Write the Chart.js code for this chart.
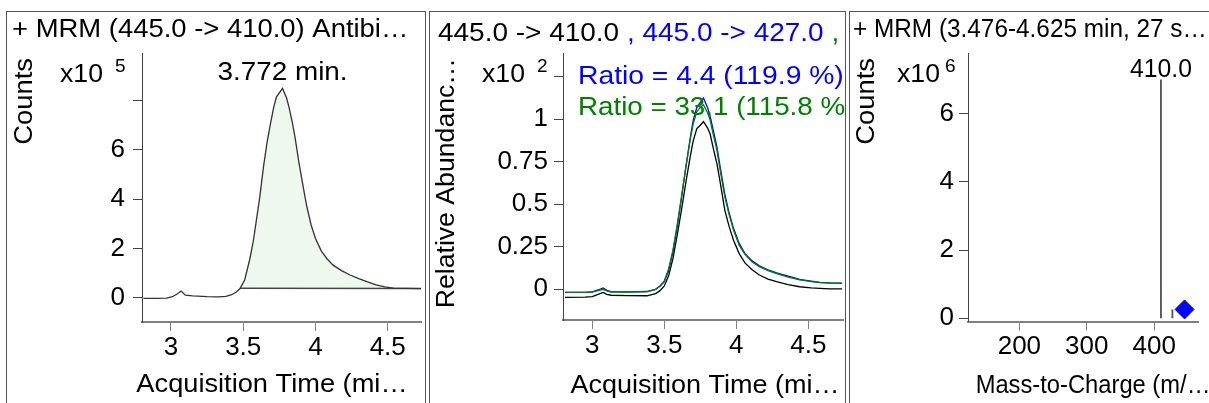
<!DOCTYPE html>
<html>
<head>
<meta charset="utf-8">
<script src="https://cdn.jsdelivr.net/npm/chart.js@4.4.1/dist/chart.umd.min.js"></script>
<style>
  html, body { margin: 0; padding: 0; background: #fff; width: 1209px; height: 403px; overflow: hidden; }
  .panel { position: absolute; top: 11px; height: 400px; border: 1px solid #555; box-sizing: border-box; }
  canvas { position: absolute; }
</style>
</head>
<body>
<div class="panel" style="left:6px;width:420px"></div>
<div class="panel" style="left:429px;width:417px"></div>
<div class="panel" style="left:849px;width:400px"></div>
<canvas id="c1" width="418" height="391" style="left:7px;top:12px"></canvas>
<canvas id="c2" width="415" height="391" style="left:430px;top:12px"></canvas>
<canvas id="c3" width="359" height="391" style="left:850px;top:12px"></canvas>
<script>
// panel 1 : MRM 445.0 -> 410.0, counts x10^5
const T1 = [2.81, 2.90, 2.97, 3.01, 3.04, 3.07, 3.10, 3.15, 3.25, 3.33, 3.38, 3.42, 3.45,
  3.477, 3.51, 3.545, 3.57, 3.595, 3.615, 3.64, 3.665, 3.69, 3.71, 3.73, 3.772, 3.80, 3.818,
  3.84, 3.86, 3.885, 3.915, 3.94, 3.97, 4.00, 4.04, 4.08, 4.12, 4.18, 4.24, 4.30, 4.36, 4.42,
  4.48, 4.54, 4.62, 4.73];
const V1 = [-0.03, -0.03, -0.02, 0.04, 0.14, 0.27, 0.10, 0.07, 0.04, 0.03, 0.05, 0.12, 0.22,
  0.36, 0.72, 1.55, 2.3, 3.3, 4.1, 5.3, 6.3, 7.1, 7.7, 8.15, 8.49, 8.1, 7.7,
  7.1, 6.45, 5.5, 4.5, 3.7, 2.95, 2.40, 1.90, 1.58, 1.33, 1.10, 0.92, 0.77, 0.64, 0.52,
  0.44, 0.39, 0.38, 0.37];
const PEAK_RT = 3.772;
const BASE_T = [3.477, 4.73];
const BASE_V = [0.38, 0.37];
const X1_TICKS = [3, 3.5, 4, 4.5];
const Y1_TICKS = [0, 2, 4, 6, 8];
const Y1_LABELS = ['0', '2', '4', '6', ''];

// panel 2 : qualifier overlay, relative abundance x10^2
const T2 = [2.81, 2.95, 3.00, 3.04, 3.075, 3.10, 3.13, 3.25, 3.38, 3.44, 3.47, 3.50, 3.53,
  3.56, 3.59, 3.62, 3.65, 3.68, 3.70, 3.726, 3.75, 3.772, 3.80, 3.818, 3.84, 3.865, 3.89,
  3.92, 3.95, 3.98, 4.02, 4.06, 4.11, 4.16, 4.22, 4.28, 4.36, 4.44, 4.52, 4.58, 4.65, 4.735];
const V2_410 = [-0.047, -0.046, -0.043, -0.03, -0.018, -0.03, -0.035, -0.037, -0.038, -0.025, -0.008, 0.02, 0.08,
  0.18, 0.32, 0.47, 0.63, 0.78, 0.87, 0.945, 0.965, 0.986, 0.95, 0.915, 0.83, 0.74, 0.62,
  0.466, 0.37, 0.29, 0.21, 0.155, 0.115, 0.084, 0.06, 0.045, 0.028, 0.015, 0.008, 0.006, 0.003, 0.002];
const V2_427 = [-0.018, -0.018, -0.015, -0.004, 0.008, -0.006, -0.014, -0.015, -0.013, 0.0, 0.018, 0.045, 0.11,
  0.22, 0.37, 0.54, 0.72, 0.89, 0.99, 1.07, 1.10, 1.125, 1.07, 1.02, 0.935, 0.84, 0.71,
  0.56, 0.45, 0.36, 0.27, 0.21, 0.167, 0.138, 0.115, 0.097, 0.077, 0.058, 0.048, 0.041, 0.038, 0.036];
const V2_Q2 = [-0.018, -0.018, -0.016, -0.008, 0.0, -0.01, -0.016, -0.016, -0.014, 0.0, 0.02, 0.05, 0.12,
  0.23, 0.38, 0.55, 0.72, 0.88, 0.97, 1.045, 1.07, 1.085, 1.04, 0.995, 0.91, 0.82, 0.69,
  0.545, 0.44, 0.35, 0.26, 0.205, 0.16, 0.133, 0.11, 0.092, 0.072, 0.056, 0.045, 0.04, 0.037, 0.035];
const X2_TICKS = [3, 3.5, 4, 4.5];
const Y2_TICKS = [0, 0.25, 0.5, 0.75, 1, 1.25];
const Y2_LABELS = ['0', '0.25', '0.5', '0.75', '1', ''];

// panel 3 : product ion spectrum, counts x10^6
const MZ = [410, 427];
const MZ_COUNTS = [6.98, 0.25];
const PREC_MZ = [445];
const PREC_Y = [0.26];
const X3_TICKS = [200, 300, 400];
const Y3_TICKS = [0, 2, 4, 6];
const Y3_LABELS = ['0', '2', '4', '6'];

const FONT = "'Liberation Sans', Arial, sans-serif";
Chart.defaults.font.family = FONT;
Chart.defaults.animation = false;

function pts(xs, ys) {
  return xs.map((x, i) => ({ x: x, y: ys[i] }));
}

function axis(min, max, ticks, labels, size, isX, pad) {
  const col = isX ? '#808080' : '#444';
  return {
    type: 'linear', min: min, max: max, offset: false,
    afterBuildTicks: s => { s.ticks = ticks.map(v => ({ value: v })); },
    afterFit: s => { if (isX) s.height = size; else s.width = size; },
    grid: { drawOnChartArea: false, offset: false, tickLength: 9, tickColor: col, color: col },
    border: { display: true, color: col, width: isX ? 2 : 1 },
    ticks: { autoSkip: false, maxRotation: 0, padding: pad, color: '#000', font: { size: 26 },
      callback: (v, i) => labels[i] }
  };
}

// free text drawn on the canvas; w = wanted ink width (squeezes/stretches horizontally)
function labels(left, top, items) {
  return {
    id: 'labels',
    afterDraw(chart) {
      const ctx = chart.ctx;
      items.forEach(it => {
        const x = it.px ? it.px(chart) : it.x - left;
        const parts = it.parts || [[it.t, it.color || '#000']];
        const full = parts.map(p => p[0]).join('');
        ctx.save();
        ctx.font = (it.size || 25) + 'px ' + FONT;
        ctx.translate(x, it.y - top);
        if (it.rot) {
          ctx.rotate(-Math.PI / 2);
          ctx.textAlign = 'right';
          ctx.textBaseline = 'middle';
        } else {
          ctx.textAlign = it.align || 'left';
          ctx.textBaseline = 'alphabetic';
        }
        let sx = it.sx || 1;
        if (it.w) {
          const m = ctx.measureText(full);
          sx = it.w / (m.actualBoundingBoxLeft + m.actualBoundingBoxRight);
        }
        ctx.scale(sx, 1);
        let cx = 0;
        parts.forEach(p => {
          ctx.fillStyle = p[1];
          ctx.fillText(p[0], cx, 0);
          cx += ctx.measureText(p[0]).width;
        });
        ctx.restore();
      });
    }
  };
}

const base = {
  responsive: false,
  plugins: { legend: { display: false }, tooltip: { enabled: false } },
  elements: { point: { radius: 0 }, line: { tension: 0 } }
};

// chart 1
new Chart(document.getElementById('c1'), {
  type: 'scatter',
  data: {
    datasets: [
      { data: pts(T1, V1), showLine: true, borderColor: '#333', borderWidth: 1.3, fill: false },
      { data: pts(BASE_T, BASE_V), showLine: true, borderColor: '#444', borderWidth: 1.5, fill: false },
      { data: pts(T1, V1).filter(p => p.x >= BASE_T[0]), showLine: true, borderWidth: 0,
        borderColor: 'rgba(0,0,0,0)', backgroundColor: '#eef8ee', fill: { value: BASE_V[0] } }
    ]
  },
  options: Object.assign({}, base, {
    layout: { padding: { left: 0, right: 4, top: 41, bottom: 0 } },
    scales: {
      x: axis(2.7995, 4.7303, X1_TICKS, X1_TICKS.map(String), 81, true, 1),
      y: axis(-0.986, 9.927, Y1_TICKS, Y1_LABELS, 135, false, 8)
    }
  }),
  plugins: [labels(7, 12, [
    { t: '+ MRM (445.0 -> 410.0) Antibi…', x: 12, y: 37, w: 392 },
    { t: 'Counts', x: 25, y: 58, rot: true, w: 85 },
    { t: 'x10', x: 60, y: 82, w: 42 },
    { t: '5', x: 115, y: 72, size: 19 },
    { t: PEAK_RT.toFixed(3) + ' min.', px: c => c.scales.x.getPixelForValue(PEAK_RT), y: 80, align: 'center', w: 128 },
    { t: 'Acquisition Time (mi…', x: 272, y: 392, align: 'center', w: 268 }
  ])]
});

// chart 2
new Chart(document.getElementById('c2'), {
  type: 'scatter',
  data: {
    datasets: [
      { data: pts(T2, V2_Q2), showLine: true, borderColor: '#008000', borderWidth: 1.3 },
      { data: pts(T2, V2_427), showLine: true, borderColor: '#0000ff', borderWidth: 1.3 },
      { data: pts(T2, V2_410), showLine: true, borderColor: '#000', borderWidth: 1.3 }
    ]
  },
  options: Object.assign({}, base, {
    layout: { padding: { left: 0, right: 2, top: 41, bottom: 0 } },
    scales: {
      x: axis(2.7965, 4.741, X2_TICKS, X2_TICKS.map(String), 83, true, 1),
      y: axis(-0.1806, 1.390, Y2_TICKS, Y2_LABELS, 133, false, 6)
    }
  }),
  plugins: [labels(430, 12, [
    { parts: [['445.0 -> 410.0 ', '#000'], [', 445.0 -> 427.0 ', '#0000ff'], [',', '#008000']], x: 438, y: 41, w: 399 },
    { t: 'Relative Abundanc…', x: 447.5, y: 58, rot: true, w: 245 },
    { t: 'x10', x: 482, y: 82, w: 42 },
    { t: '2', x: 537, y: 72, size: 19 },
    { t: 'Ratio = 4.4 (119.9 %)', x: 578, y: 84, color: '#0000ff', w: 262 },
    { t: 'Ratio = 33.1 (115.8 %)', x: 578, y: 115, color: '#008000', sx: 1.11 },
    { t: 'Acquisition Time (mi…', x: 705, y: 393, align: 'center', w: 266 }
  ])]
});

// chart 3
new Chart(document.getElementById('c3'), {
  type: 'bar',
  data: {
    datasets: [
      { type: 'scatter', data: pts(PREC_MZ, PREC_Y), pointStyle: 'rectRot', pointRadius: 9.5,
        backgroundColor: '#0000ff', borderColor: '#0000ff' },
      { type: 'bar', data: pts(MZ, MZ_COUNTS), backgroundColor: '#555', barThickness: 1.2,
        grouped: false }
    ]
  },
  options: Object.assign({}, base, {
    layout: { padding: { left: 0, right: 0, top: 41, bottom: 0 } },
    scales: {
      x: axis(123.8, 465.7, X3_TICKS, X3_TICKS.map(String), 81.5, true, 1),
      y: axis(-0.0937, 7.769, Y3_TICKS, Y3_LABELS, 118, false, 5)
    }
  }),
  plugins: [labels(850, 12, [
    { t: '+ MRM (3.476-4.625 min, 27 s…', x: 853, y: 37, w: 350 },
    { t: 'Counts', x: 867, y: 58, rot: true, w: 85 },
    { t: 'x10', x: 897, y: 82, w: 42 },
    { t: '6', x: 945, y: 72, size: 19 },
    { t: MZ[0].toFixed(1), px: c => c.scales.x.getPixelForValue(MZ[0]), y: 77, align: 'center', w: 61 },
    { t: 'Mass-to-Charge (m/…', x: 1093, y: 393, align: 'center', w: 230 }
  ])]
});
</script>
</body>
</html>
